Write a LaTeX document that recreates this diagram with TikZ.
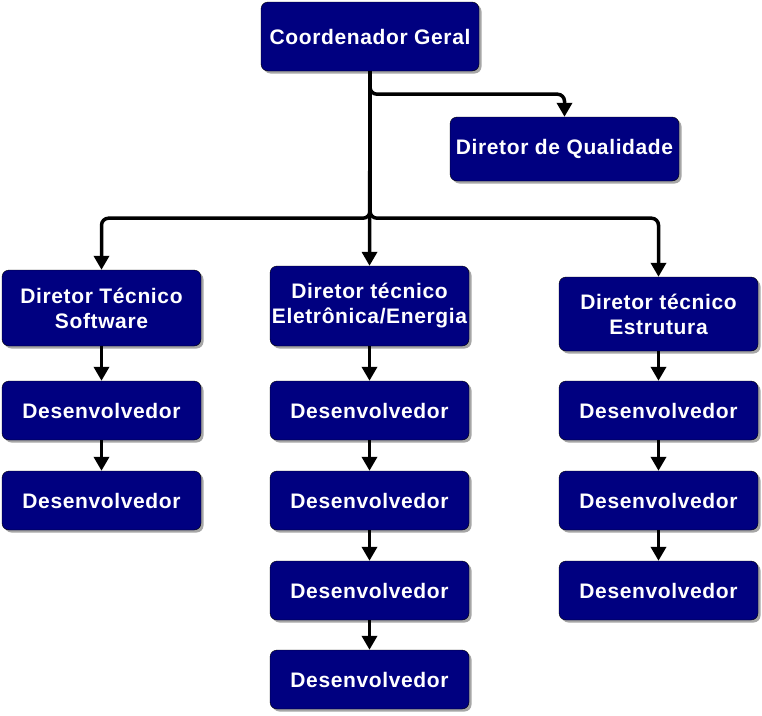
\documentclass[tikz,border=0pt]{standalone}
\usepackage{fontspec}
\setmainfont{Liberation Sans}
\newfontfamily\caixafont[LetterSpace=3]{Liberation Sans}
\usetikzlibrary{arrows.meta,shadows}
\definecolor{navy}{RGB}{0,0,128}
\tikzset{
  caixa/.style={draw=black,fill=navy,text=white,rounded corners=7pt,
    minimum width=199pt,minimum height=59pt,inner sep=0pt,align=center,
    font=\caixafont\fontsize{21}{25}\selectfont\bfseries,
    drop shadow={shadow xshift=2.5pt,shadow yshift=-2.5pt,fill=black!35,opacity=1}},
  seta/.style={line width=3.5pt,rounded corners=7pt,
    -{Triangle[width=15pt,length=14pt]}}
}
\begin{document}
\begin{tikzpicture}[x=1pt,y=-1pt]
\useasboundingbox (0,0) rectangle (762,715);

\node[caixa,minimum width=218pt,minimum height=69pt] (coord) at (370,36.5) {Coordenador Geral};
\node[caixa,minimum width=229pt,minimum height=64pt] (qual) at (564.5,149) {Diretor de Qualidade};

\node[caixa,minimum height=76pt] (software) at (101.5,308) {Diretor Técnico\\Software};
\node[caixa,minimum height=80pt] (eletronica) at (369.5,306) {Diretor técnico\\Eletrônica/Energia};
\node[caixa,minimum height=74pt] (estrutura) at (658.5,314) {Diretor técnico\\Estrutura};

\node[caixa] (sw1) at (101.5,410.5) {Desenvolvedor};
\node[caixa] (sw2) at (101.5,500.5) {Desenvolvedor};

\node[caixa] (el1) at (369.5,410.5) {Desenvolvedor};
\node[caixa] (el2) at (369.5,500.5) {Desenvolvedor};
\node[caixa] (el3) at (369.5,590.5) {Desenvolvedor};
\node[caixa] (el4) at (369.5,679.5) {Desenvolvedor};

\node[caixa] (es1) at (658.5,410.5) {Desenvolvedor};
\node[caixa] (es2) at (658.5,500.5) {Desenvolvedor};
\node[caixa] (es3) at (658.5,590.5) {Desenvolvedor};

\draw[seta] (coord.south) -- ++(0,23) -| (qual.north);
\draw[seta] (coord.south) -- ++(0,147) -| (software.north);
\draw[seta] (coord.south) -- ++(0,147) -| (estrutura.north);
\draw[seta] (coord.south) -- (eletronica.north);

\path[seta] (software) edge (sw1) (sw1) edge (sw2);
\path[seta] (eletronica) edge (el1) (el1) edge (el2) (el2) edge (el3) (el3) edge (el4);
\path[seta] (estrutura) edge (es1) (es1) edge (es2) (es2) edge (es3);
\end{tikzpicture}
\end{document}
